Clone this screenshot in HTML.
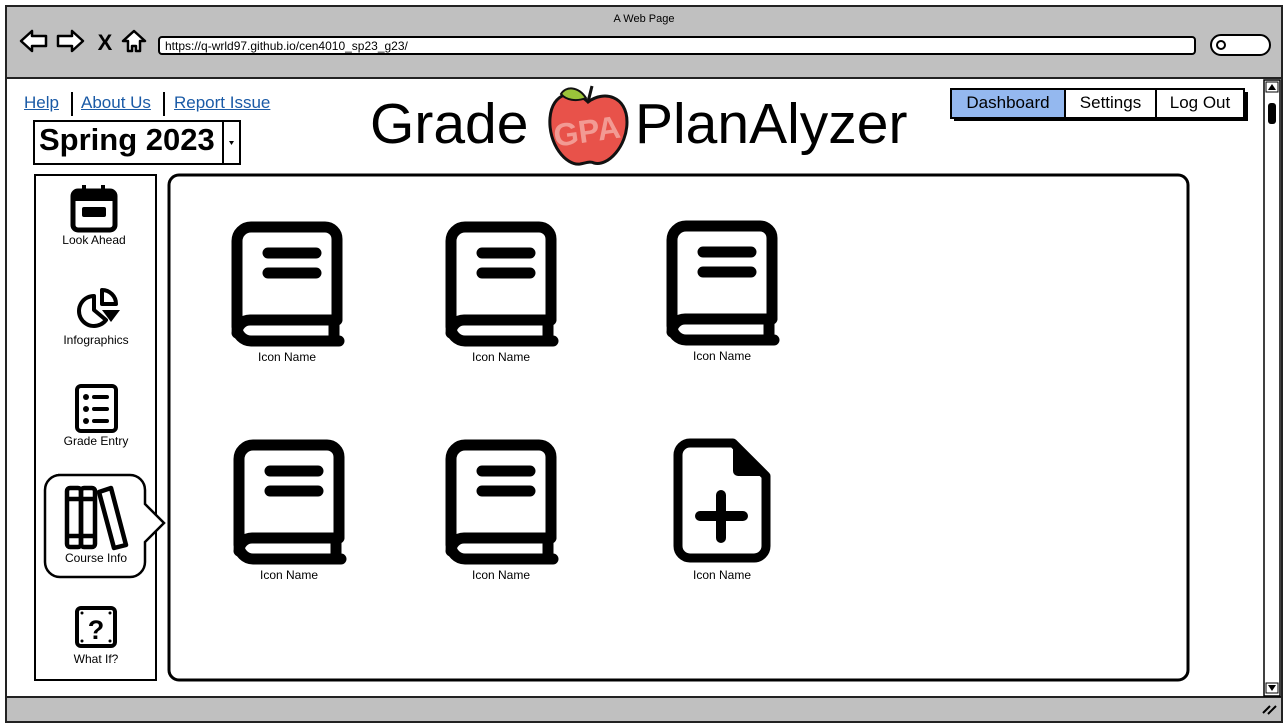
<!DOCTYPE html>
<html><head><meta charset="utf-8">
<style>
*{margin:0;padding:0;box-sizing:border-box}
body{width:1288px;height:728px;background:#fff;position:relative;overflow:hidden;font-family:"Liberation Sans",sans-serif;color:#000}
.abs{position:absolute}
.lbl{position:absolute;font-size:12px;text-align:center;width:120px}
a{color:#1a5aa6;text-decoration:underline}
</style></head><body>
<svg class="abs" style="left:0;top:0" width="1288" height="728" viewBox="0 0 1288 728">
<defs>
<g id="book" fill="none" stroke="#000" stroke-width="11" stroke-linecap="round" stroke-linejoin="round">
<path d="M106,98 V18 a12,12 0 0 0 -12,-12 H20 a14,14 0 0 0 -14,14 V106 a14,14 0 0 0 14,14 H108"/>
<path d="M6,112 a13,13 0 0 1 13,-13 H106"/>
<path d="M103,99 V120"/>
<path d="M37,32 H85 M37,52 H85"/>
</g>
</defs>
<rect x="6" y="6" width="1276" height="716" fill="#c0c0c0" stroke="#222" stroke-width="2"/>
<rect x="7" y="78" width="1274" height="618" fill="#fff"/>
<line x1="6" y1="78" x2="1282" y2="78" stroke="#222" stroke-width="2"/>
<line x1="6" y1="697" x2="1282" y2="697" stroke="#222" stroke-width="2"/>
<text x="644" y="22" font-size="11" text-anchor="middle" font-family="Liberation Sans">A Web Page</text>
<path d="M21,41 L32,31 V36 H46 V46 H32 V51 Z" fill="#fff" stroke="#000" stroke-width="2.5" stroke-linejoin="round"/>
<path d="M83,41 L72,31 V36 H58 V46 H72 V51 Z" fill="#fff" stroke="#000" stroke-width="2.5" stroke-linejoin="round"/>
<text x="105" y="50" font-size="22" font-weight="bold" text-anchor="middle" font-family="Liberation Sans">X</text>
<path d="M134,31 L145,41 H140 V51 H136 V46 H132 V51 H128 V41 H123 Z" fill="#fff" stroke="#000" stroke-width="2.5" stroke-linejoin="round"/>
<rect x="159" y="37" width="1036" height="17" rx="3" fill="#fff" stroke="#000" stroke-width="2"/>
<text x="165" y="50" font-size="12" font-family="Liberation Sans">https://q-wrld97.github.io/cen4010_sp23_g23/</text>
<rect x="1211" y="35" width="59" height="20" rx="10" fill="#fff" stroke="#000" stroke-width="2"/>
<circle cx="1221" cy="45" r="4" fill="none" stroke="#000" stroke-width="2"/>
<rect x="1264" y="80" width="16" height="616" fill="#fff" stroke="#000" stroke-width="1.5"/>
<rect x="1266" y="82" width="12" height="10" fill="#fff" stroke="#000" stroke-width="1"/>
<path d="M1268,90 L1272,84 L1276,90Z"/>
<rect x="1268" y="103" width="8" height="21" rx="3" fill="#000"/>
<rect x="1266" y="683" width="12" height="10" fill="#fff" stroke="#000" stroke-width="1"/>
<path d="M1268,685 L1276,685 L1272,691Z"/>
<path d="M1263,713 L1270,706 M1268,714 L1276,706" stroke="#000" stroke-width="2"/>
<line x1="72" y1="92" x2="72" y2="116" stroke="#000" stroke-width="2"/>
<line x1="164" y1="92" x2="164" y2="116" stroke="#000" stroke-width="2"/>
<rect x="34" y="121" width="206" height="43" fill="#fff" stroke="#000" stroke-width="2"/>
<line x1="223" y1="121" x2="223" y2="164" stroke="#000" stroke-width="2"/>
<path d="M229,141 L234,141 L231.5,145Z"/>
<rect x="954" y="92" width="294" height="29" fill="#000"/>
<rect x="951" y="89" width="114" height="29" fill="#94b8ef" stroke="#000" stroke-width="2"/>
<rect x="1065" y="89" width="91" height="29" fill="#fff" stroke="#000" stroke-width="2"/>
<rect x="1156" y="89" width="88" height="29" fill="#fff" stroke="#000" stroke-width="2"/>
<path d="M588,102 C574,88 552,92 550,118 C548,144 566,166 580,164 C586,163 590,161 594,163 C608,167 627,146 627,122 C627,96 604,90 588,102Z" fill="#e8524a" stroke="#111" stroke-width="3"/>
<path d="M588,102 L592,86" stroke="#111" stroke-width="3"/>
<path d="M561,94 C566,86 578,86 586,98 C576,102 566,100 561,94Z" fill="#9bc43a" stroke="#111" stroke-width="2"/>
<text x="553" y="142" font-size="32" font-weight="bold" fill="#f6b3ac" font-family="Liberation Sans" opacity="0.75" transform="rotate(-8 588 128)">GPA</text>
<rect x="35" y="175" width="121" height="505" fill="#fff" stroke="#000" stroke-width="2"/>
<path d="M58,475 H130 a15,15 0 0 1 15,15 V504 L164,523 L145,542 V562 a15,15 0 0 1 -15,15 H60 a15,15 0 0 1 -15,-15 V490 a15,15 0 0 1 15,-15Z" fill="#fff" stroke="#000" stroke-width="2.5"/>
<rect x="169" y="175" width="1019" height="505" rx="10" fill="#fff" stroke="#000" stroke-width="3"/>
<rect x="73" y="191" width="42" height="39" rx="5" fill="#fff" stroke="#000" stroke-width="5"/>
<rect x="73" y="191" width="42" height="10" fill="#000"/>
<line x1="84" y1="185" x2="84" y2="192" stroke="#000" stroke-width="4"/>
<line x1="103" y1="185" x2="103" y2="192" stroke="#000" stroke-width="4"/>
<rect x="82" y="207" width="24" height="10" rx="2" fill="#000"/>
<path d="M94,296 A15,15 0 1 0 106,320 L94,310Z" fill="none" stroke="#000" stroke-width="4" stroke-linejoin="round"/>
<path d="M102,290 A14,14 0 0 1 116,304 H102Z" fill="none" stroke="#000" stroke-width="4" stroke-linejoin="round"/>
<path d="M102,310 H120 L111,322Z" fill="#000"/>
<rect x="77" y="386" width="39" height="45" rx="4" fill="#fff" stroke="#000" stroke-width="4"/>
<g fill="#000"><circle cx="86" cy="397" r="3"/><circle cx="86" cy="409" r="3"/><circle cx="86" cy="421" r="3"/>
<rect x="92" y="395" width="17" height="4" rx="2"/><rect x="92" y="407" width="17" height="4" rx="2"/><rect x="92" y="419" width="17" height="4" rx="2"/></g>
<g fill="none" stroke="#000" stroke-width="4.5">
<rect x="67" y="488" width="14" height="59" rx="3"/><rect x="81" y="488" width="14" height="59" rx="3"/>
<line x1="67" y1="499" x2="95" y2="499"/><line x1="67" y1="536" x2="95" y2="536"/>
<path d="M99,492 L111,488 L126,545 L114,548Z" stroke-linejoin="round"/>
</g>
<rect x="77" y="608" width="38" height="38" rx="4" fill="#fff" stroke="#000" stroke-width="4"/>
<text x="96" y="639" font-size="27" font-weight="bold" text-anchor="middle" font-family="Liberation Sans">?</text>
<g fill="#000"><circle cx="82" cy="613" r="1.5"/><circle cx="110" cy="613" r="1.5"/><circle cx="82" cy="641" r="1.5"/><circle cx="110" cy="641" r="1.5"/></g>
<use href="#book" transform="translate(231,221)"/>
<use href="#book" transform="translate(445,221)"/>
<use href="#book" transform="translate(666,220)"/>
<use href="#book" transform="translate(233,439)"/>
<use href="#book" transform="translate(445,439)"/>
<path d="M690,443 H733 L766,476 V546 a12,12 0 0 1 -12,12 H690 a12,12 0 0 1 -12,-12 V455 a12,12 0 0 1 12,-12Z" fill="none" stroke="#000" stroke-width="9" stroke-linejoin="round"/>
<path d="M733,443 L766,476 H738 a5,5 0 0 1 -5,-5Z" fill="#000"/>
<path d="M721,495 V538 M700,516 H743" stroke="#000" stroke-width="10" stroke-linecap="round"/>
</svg>

<div class="abs" style="left:24px;top:93px;font-size:17px"><a>Help</a></div>
<div class="abs" style="left:81px;top:93px;font-size:17px"><a>About Us</a></div>
<div class="abs" style="left:174px;top:93px;font-size:17px"><a>Report Issue</a></div>
<div class="abs" style="left:39px;top:122px;font-size:31px;font-weight:bold">Spring 2023</div>
<div class="abs" style="left:370px;top:91px;font-size:57px">Grade</div>
<div class="abs" style="left:635px;top:91px;font-size:57px">PlanAlyzer</div>
<div class="abs" style="left:951px;top:93px;width:114px;text-align:center;font-size:17px">Dashboard</div>
<div class="abs" style="left:1065px;top:93px;width:91px;text-align:center;font-size:17px">Settings</div>
<div class="abs" style="left:1156px;top:93px;width:88px;text-align:center;font-size:17px">Log Out</div>

<div class="lbl" style="left:34px;top:233px">Look Ahead</div>
<div class="lbl" style="left:36px;top:333px">Infographics</div>
<div class="lbl" style="left:36px;top:434px">Grade Entry</div>
<div class="lbl" style="left:36px;top:551px">Course Info</div>
<div class="lbl" style="left:36px;top:652px">What If?</div>

<div class="lbl" style="left:227px;top:350px">Icon Name</div>
<div class="lbl" style="left:441px;top:350px">Icon Name</div>
<div class="lbl" style="left:662px;top:349px">Icon Name</div>
<div class="lbl" style="left:229px;top:568px">Icon Name</div>
<div class="lbl" style="left:441px;top:568px">Icon Name</div>
<div class="lbl" style="left:662px;top:568px">Icon Name</div>
</body></html>
